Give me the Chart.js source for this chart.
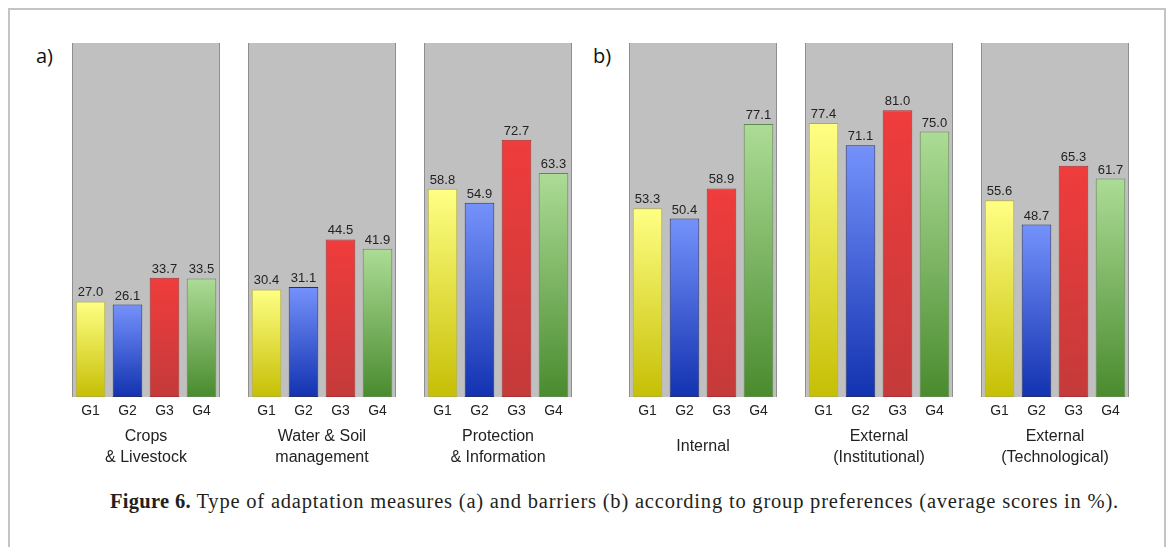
<!DOCTYPE html>
<html>
<head>
    <title>Figure 6</title>
    <script src="https://cdn.jsdelivr.net/npm/chart.js"></script>
    <style>
        body { margin: 0; background: #fff; width: 1171px; height: 547px; overflow: hidden; position: relative; }
        .frame { position: absolute; left: 8px; top: 8px; width: 1154px; height: 600px;
                 border: 2px solid #c4c4c4; border-bottom: none; }
        .panel { position: absolute; top: 43px; width: 148px; height: 434px; }
        .tag { position: absolute; top: 42px; font: 20px "Open Sans", "Liberation Sans", sans-serif; color: #111; }
        .caption { position: absolute; left: 110px; top: 490px; font: 20.5px "Liberation Serif", "DejaVu Serif", serif;
                   letter-spacing: 0.8px; color: #231f20; white-space: nowrap; }
        .caption b { font-weight: bold; letter-spacing: 0.3px; }
    </style>
</head>
<body>
    <div class="frame"></div>
    <div class="tag" style="left:36px">a)</div>
    <div class="tag" style="left:593px">b)</div>

    <div class="panel" style="left:72px"><canvas id="crops"></canvas></div>
    <div class="panel" style="left:248px"><canvas id="water"></canvas></div>
    <div class="panel" style="left:424px"><canvas id="protection"></canvas></div>
    <div class="panel" style="left:629px"><canvas id="internal"></canvas></div>
    <div class="panel" style="left:805px"><canvas id="institutional"></canvas></div>
    <div class="panel" style="left:981px"><canvas id="technological"></canvas></div>

    <div class="caption"><b>Figure 6.</b> Type of adaptation measures (a) and barriers (b) according to group preferences (average scores in %).</div>

    <script>
        // data (average scores in %)
        const groups = ['G1', 'G2', 'G3', 'G4'];

        const cropsValues = [27.0, 26.1, 33.7, 33.5];
        const waterValues = [30.4, 31.1, 44.5, 41.9];
        const protectionValues = [58.8, 54.9, 72.7, 63.3];
        const internalValues = [53.3, 50.4, 58.9, 77.1];
        const institutionalValues = [77.4, 71.1, 81.0, 75.0];
        const technologicalValues = [55.6, 48.7, 65.3, 61.7];

        const panelTitles = {
            crops: ['Crops', '& Livestock'],
            water: ['Water & Soil', 'management'],
            protection: ['Protection', '& Information'],
            internal: ['Internal'],
            institutional: ['External', '(Institutional)'],
            technological: ['External', '(Technological)']
        };

        // light top -> dark bottom for each group
        const gradTop = ['#ffff84', '#7592fb', '#f03c3c', '#acdc96'];
        const gradBottom = ['#c6bf05', '#1232b0', '#c43a3a', '#4a8b2e'];
        const barBorder = ['#b2ad3c', '#24306e', '#a83030', '#5d8a4e'];

        Chart.defaults.font.family = '"Liberation Sans", Arial, sans-serif';
        Chart.defaults.color = '#222';

        const panelBg = {
            id: 'panelBg',
            beforeDatasetsDraw(chart) {
                const {ctx, chartArea: a} = chart;
                ctx.save();
                ctx.fillStyle = '#c0c0c0';
                ctx.fillRect(a.left, a.top, a.right - a.left, a.bottom - a.top);
                ctx.fillStyle = '#8e8e8e';
                ctx.fillRect(a.left, a.top, 1, a.bottom - a.top);
                ctx.fillRect(a.right - 1, a.top, 1, a.bottom - a.top);
                ctx.restore();
            }
        };

        const valueLabels = {
            id: 'valueLabels',
            afterDatasetsDraw(chart) {
                const ctx = chart.ctx;
                const data = chart.data.datasets[0].data;
                ctx.save();
                ctx.font = '13px "Liberation Sans", Arial, sans-serif';
                ctx.fillStyle = '#222';
                ctx.textAlign = 'center';
                ctx.textBaseline = 'alphabetic';
                chart.getDatasetMeta(0).data.forEach((bar, i) => {
                    ctx.fillText(data[i].toFixed(1), bar.x, bar.y - 5);
                });
                ctx.restore();
            }
        };

        function barGradient(c) {
            const chart = c.chart;
            const i = c.dataIndex;
            if (!chart.chartArea || c.type !== 'data') return gradTop[i];
            const y = chart.scales.y;
            const g = chart.ctx.createLinearGradient(0, y.getPixelForValue(c.raw), 0, y.getPixelForValue(0));
            g.addColorStop(0, gradTop[i]);
            g.addColorStop(1, gradBottom[i]);
            return g;
        }

        function makePanel(id, values) {
            const title = panelTitles[id];
            new Chart(document.getElementById(id), {
                type: 'bar',
                data: {
                    labels: groups,
                    datasets: [{
                        data: values,
                        backgroundColor: barGradient,
                        borderColor: barBorder,
                        borderWidth: 1,
                        borderSkipped: false,
                        barPercentage: 0.8,
                        categoryPercentage: 1.0
                    }]
                },
                options: {
                    responsive: true,
                    maintainAspectRatio: false,
                    animation: false,
                    plugins: { legend: { display: false }, tooltip: { enabled: false } },
                    layout: { padding: 0 },
                    scales: {
                        y: { display: false, min: 0, max: 100 },
                        x: {
                            grid: { display: false, drawTicks: false },
                            border: { display: false },
                            ticks: { padding: 6, font: { size: 14 }, color: '#222' },
                            title: {
                                display: true,
                                text: title,
                                color: '#222',
                                font: { size: 16, lineHeight: 1.3 },
                                padding: { top: 0, bottom: title.length > 1 ? 9 : 20 }
                            },
                            afterFit(scale) { scale.height = 80; }
                        }
                    }
                },
                plugins: [panelBg, valueLabels]
            });
        }

        makePanel('crops', cropsValues);
        makePanel('water', waterValues);
        makePanel('protection', protectionValues);
        makePanel('internal', internalValues);
        makePanel('institutional', institutionalValues);
        makePanel('technological', technologicalValues);
    </script>
</body>
</html>
